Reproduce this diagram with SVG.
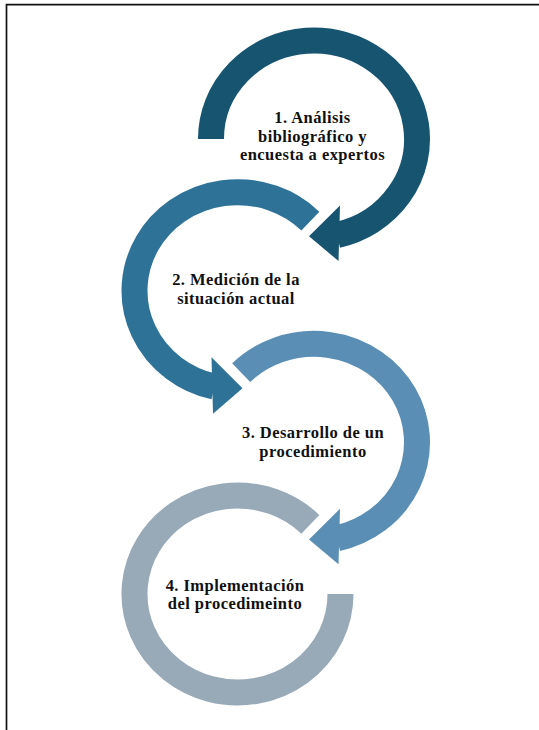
<svg xmlns="http://www.w3.org/2000/svg" width="539" height="730" viewBox="0 0 539 730">
<style>
.ring{fill:none;stroke-width:26;stroke-linecap:butt}
.lbl{font-family:"Liberation Serif","Times New Roman",serif;font-weight:bold;font-size:16.5px;letter-spacing:0.45px;fill:#111;text-anchor:middle}
</style>
<rect x="0" y="0" width="539" height="730" fill="#fff"/>
<path d="M6.5,730 V4.7 H539" fill="none" stroke="#111" stroke-width="1.7"/>
<g id="connectors">
<g id="arrow4">
<path class="ring" stroke="#98a9b8" d="M340.5,594 A103,98.5 0 1 1 310.33,524.35"/>
</g>
<g id="arrow3">
<path class="ring" stroke="#5a8eb4" d="M241.17,372.65 A103,98.5 0 1 1 337.17,538.28"/>
<polygon fill="#5a8eb4" points="340,508.8 309,539.6 338.5,564.3"/>
</g>
<g id="arrow2">
<path class="ring" stroke="#2e7298" d="M310.33,221.05 A103,98.5 0 1 0 214.33,386.68"/>
<polygon fill="#2e7298" points="211.5,357.2 242.5,388.2 213,413.7"/>
</g>
<g id="arrow1">
<path class="ring" stroke="#165470" d="M211,139 A103,98.5 0 1 1 337.17,234.98"/>
<polygon fill="#165470" points="340,205.5 309,236.3 338.5,261"/>
</g>
</g>
<g id="node1">
<text class="lbl" x="312.5" y="123.2">1. Análisis</text>
<text class="lbl" x="312.5" y="141.7">bibliográfico y</text>
<text class="lbl" x="312.5" y="160.2">encuesta a expertos</text>
</g>
<g id="node2">
<text class="lbl" x="236" y="285.4">2. Medición de la</text>
<text class="lbl" x="236" y="303.9">situación actual</text>
</g>
<g id="node3">
<text class="lbl" x="313" y="438.1">3. Desarrollo de un</text>
<text class="lbl" x="313" y="456.6">procedimiento</text>
</g>
<g id="node4">
<text class="lbl" x="235" y="590.75">4. Implementación</text>
<text class="lbl" x="235" y="609.25">del procedimeinto</text>
</g>
</svg>
